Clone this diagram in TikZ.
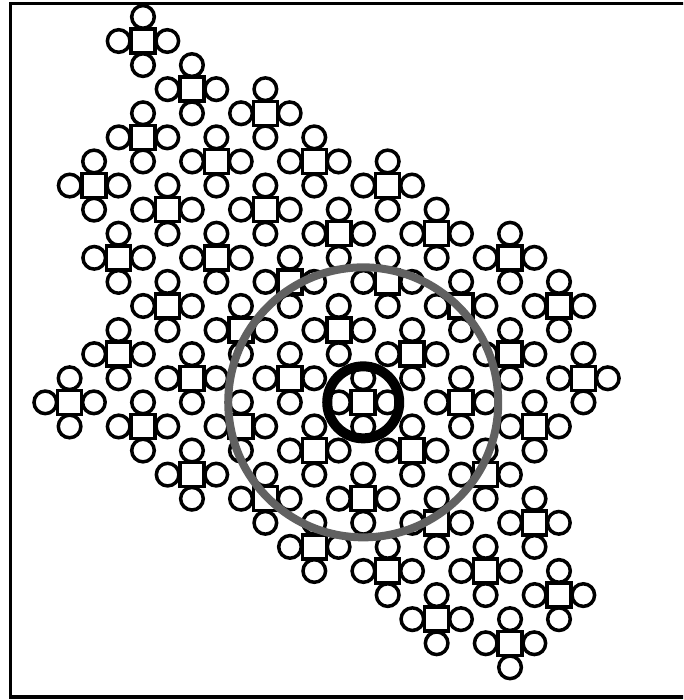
\documentclass[tikz,border=0pt]{standalone}
\usepackage{tikz}
\usetikzlibrary{calc}

\begin{document}
\begin{tikzpicture}[x=1pt, y=-1pt]
\tikzset{tileline/.style={draw=black, line width=3.5pt}}
\tikzset{frame/.style={draw=black, line width=3.4pt}}
\tikzset{halo/.style={draw=black!62, line width=8pt}}
\tikzset{core/.style={draw=black, line width=10pt}}
\tikzset{tile/.pic={
  \draw[tileline] (-12,-12) rectangle (12,12);
  \foreach \dx/\dy in {24.3/0, -24.3/0, 0/24.1, 0/-24.1}
    \draw[tileline] (\dx,\dy) circle[radius=11.3];
}}
\useasboundingbox (0,0) rectangle (683,700);
\clip (0,0) rectangle (683,700);
\draw[frame] (700,3.5) -- (10.3,3.5) -- (10.3,697) -- (700,697);
% tiles, one anti-diagonal per line
\foreach \i/\j in {0/0,
    2/2, 0/4, -2/6,
    5/3, 3/5, 1/7, -1/9,
    7/5, 5/7, 3/9, 1/11, -1/13, -3/15,
    10/6, 8/8, 6/10, 4/12, 2/14, 0/16,
    12/8, 10/10, 8/12, 6/14, 4/16, 2/18,
    15/9, 13/11, 11/13, 9/15, 7/17, 5/19,
    17/11, 15/13, 13/15, 11/17, 9/19, 7/21,
    18/14, 16/16, 14/18, 12/20, 10/22,
    16/20, 14/22, 12/24,
    17/23, 15/25}
  \pic at ({143+24.47*\i},{41+24.09*\j}) {tile};
\coordinate (centre) at ({143+24.47*9},{41+24.09*15});
\draw[halo] (centre) circle[radius=135];
\draw[core] (centre) circle[radius=36];
\end{tikzpicture}
\end{document}
